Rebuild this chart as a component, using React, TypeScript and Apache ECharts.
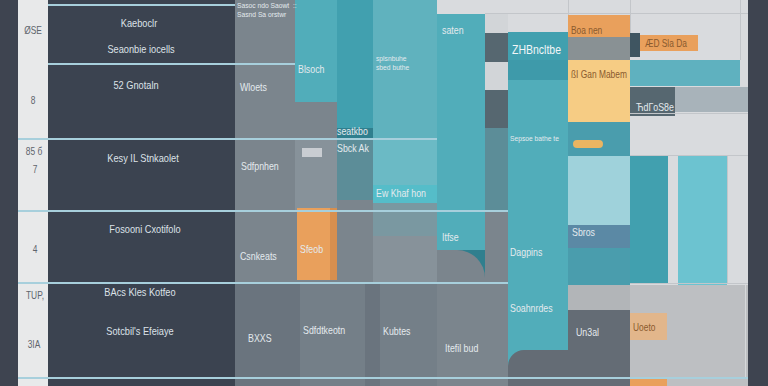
import React, { useEffect, useRef } from "react";
import * as echarts from "echarts";

// ---- data: mosaic cells [x0, x1, y0, y1, tone] in chart units ----
const baseCells: [number, number, number, number, string][] = [
  [0, 768, 0, 386, "bg"],
  [0, 18, 0, 386, "frame"],
  [748, 768, 0, 386, "frame"],
  [18, 48, 0, 386, "strip"],
  [48, 235, 0, 386, "panel"],
  [235, 295, 0, 386, "gray"],
  [295, 337, 0, 386, "gray"],
  [337, 373, 0, 386, "gray"],
  [373, 437, 0, 386, "gray"],
  [437, 508, 250, 386, "gray"],
];

const lowerCells: [number, number, number, number, string][] = [
  [235, 300, 283, 386, "grayDark"],
  [300, 365, 283, 386, "grayMid"],
  [365, 380, 283, 386, "grayDark"],
  [380, 437, 283, 386, "grayMid"],
  [437, 508, 283, 386, "gray"],
  [295, 337, 140, 211, "grayLight"],
  [568, 630, 285, 310, "stone"],
  [568, 630, 310, 386, "grayDeep"],
  [630, 748, 285, 386, "pale"],
  [630, 667, 313, 340, "peach"],
  [630, 667, 378, 386, "orange"],
];

const tealCells: [number, number, number, number, string][] = [
  [295, 337, 0, 102, "teal"],
  [337, 373, 0, 128, "tealDark"],
  [337, 373, 128, 140, "tealDeep"],
  [337, 373, 140, 200, "tealGray"],
  [373, 437, 0, 140, "tealLight"],
  [373, 437, 140, 185, "tealPale"],
  [373, 437, 185, 203, "tealBright"],
  [373, 437, 203, 236, "grayBlue"],
  [373, 437, 236, 283, "grayLight"],
  [437, 485, 14, 250, "teal"],
  [437, 485, 250, 283, "tealDeep"],
  [485, 508, 14, 33, "bgDim"],
  [485, 508, 33, 62, "slate"],
  [485, 508, 62, 90, "bgDim"],
  [485, 508, 90, 128, "slate"],
  [485, 508, 128, 211, "tealGray"],
  [485, 508, 211, 283, "gray"],
  [508, 568, 32, 60, "tealDark"],
  [508, 568, 60, 80, "tealMid"],
  [508, 568, 80, 386, "teal"],
  [568, 630, 15, 37, "orange"],
  [568, 630, 37, 60, "stoneDark"],
  [568, 630, 60, 122, "yellow"],
  [568, 630, 122, 156, "tealSea"],
  [568, 630, 156, 225, "cyan"],
  [568, 630, 225, 248, "steel"],
  [568, 630, 248, 285, "tealSea"],
  [630, 640, 33, 57, "slateDeep"],
  [640, 698, 35, 51, "orange"],
  [630, 740, 60, 86, "tealSoft"],
  [630, 675, 87, 116, "slate"],
  [675, 748, 87, 112, "silver"],
  [630, 668, 156, 283, "tealDark"],
  [678, 727, 156, 285, "cyanBright"],
  [297, 337, 208, 280, "orange"],
  [330, 337, 208, 280, "orangeDark"],
  [302, 322, 148, 157, "flag"],
];

// rounded overlays [x0, x1, y0, y1, tone, cornerStyle]
const curveCells: [number, number, number, number, string, number][] = [
  [295, 337, 102, 140, "gray", 0],
  [437, 485, 250, 283, "gray", 1],
  [508, 568, 350, 386, "grayDeep", 2],
  [573, 603, 140, 148, "fish", 3],
];

// separators and grid rules [x0, x1, y0, y1, tone]
const ruleCells: [number, number, number, number, string][] = [
  [485, 748, 13, 14, "rule"],
  [630, 748, 113, 114, "rule"],
  [630, 748, 155, 156, "rule"],
  [630, 748, 283, 284, "rule"],
  [727, 728, 156, 284, "rule"],
  [740, 741, 0, 60, "rule"],
  [568, 569, 0, 15, "rule"],
  [630, 631, 0, 33, "rule"],
  [745, 746, 285, 378, "edge"],
  [48, 235, 4, 6, "line"],
  [48, 295, 63, 65, "line"],
  [18, 437, 138, 140, "line"],
  [18, 508, 210, 212, "line"],
  [18, 508, 282, 284, "line"],
  [18, 748, 377, 379, "line"],
];

// labels [x, y, text]
const panelLabels: [number, number, string][] = [
  [139, 23, "Kaeboclr"],
  [141, 49, "Seaonbie iocells"],
  [136, 85, "52 Gnotaln"],
  [143, 158, "Kesy IL Stnkaolet"],
  [145, 229, "Fosooni Cxotifolo"],
  [140, 292, "BAcs Kles Kotfeo"],
  [140, 331, "Sotcbil's Efeiaye"],
];
const axisLabels: [number, number, string][] = [
  [33, 31, "ØSE"],
  [33, 101, "8"],
  [34, 152, "85 б"],
  [35, 170, "7"],
  [35, 250, "4"],
  [35, 296, "TUP,"],
  [34, 345, "3IA"],
];
const lightLabels: [number, number, string][] = [
  [240, 87, "Wloets"],
  [241, 166, "Sdfpnhen"],
  [240, 256, "Csnkeats"],
  [248, 338, "BXXS"],
  [303, 330, "Sdfdtkeotn"],
  [383, 331, "Kubtes"],
  [445, 348, "Itefil bud"],
  [298, 69, "Blsoch"],
  [337, 131, "seatkbo"],
  [337, 148, "Sbck Ak"],
  [376, 193, "Ew Khaf hon"],
  [442, 30, "saten"],
  [510, 252, "Dagpins"],
  [510, 308, "Soahnrdes"],
  [442, 237, "Itfse"],
  [572, 232, "Sbros"],
  [576, 332, "Un3al"],
  [636, 107, "ЋdΓoS8e"],
  [300, 249, "Sfeob"],
];
const smallLabels: [number, number, string][] = [
  [237, 5, "Sasoc ndo Saowt  ::"],
  [237, 14, "Sasnd Sa orstwr"],
  [376, 58, "splsnbuhe"],
  [376, 67, "sbed buthe"],
  [510, 138, "Sepsoe bathe te"],
];
const titleLabels: [number, number, string][] = [[512, 50, "ZHBncltbe"]];
const darkLabels: [number, number, string][] = [
  [571, 31, "Boa nen"],
  [571, 75, "ßI Gan Mabem"],
  [645, 44, "ÆD Sla Da"],
  [633, 328, "Uoeto"],
];

// ---- styles ----
const palette: Record<string, string> = {
  bg: "#d9dbde",
  bgDim: "#d2d5d8",
  frame: "#3e4450",
  strip: "#e8e9ea",
  panel: "#3b4350",
  gray: "#7b858d",
  grayLight: "#87929a",
  grayMid: "#747f88",
  grayDark: "#6a747e",
  grayDeep: "#646c75",
  grayBlue: "#7a98a1",
  stone: "#b2b5b8",
  stoneDark: "#899194",
  pale: "#bdbfc2",
  peach: "#e2b68b",
  teal: "#51adba",
  tealLight: "#60b2be",
  tealPale: "#6bbac5",
  tealBright: "#55bdc9",
  tealMid: "#3e9aaa",
  tealDark: "#41a0af",
  tealDeep: "#307f8e",
  tealGray: "#5c8d98",
  tealSea: "#4a9dad",
  tealSoft: "#5fb1bf",
  cyan: "#9fd2db",
  cyanBright: "#6cc3d0",
  slate: "#566770",
  slateDeep: "#3f5561",
  steel: "#5b89a5",
  silver: "#a8b3ba",
  orange: "#e9a05c",
  orangeDark: "#d88f4f",
  yellow: "#f6cc84",
  flag: "#c9cdd2",
  fish: "#eab562",
  rule: "#c3c6ca",
  edge: "#d6d8da",
  line: "#a7cfdc",
};
const cornerStyles: number[][] = [
  [0, 20, 0, 0],
  [0, 28, 0, 0],
  [16, 0, 0, 0],
  [4, 8, 8, 4],
];
const toneKeys = Object.keys(palette);
const FONT = "'Liberation Sans', Arial, sans-serif";
const NARROW = 0.84;

function cellSeries(rows: (number | string)[][], withCorner: boolean, z: number) {
  return {
    type: "custom",
    z,
    silent: true,
    clip: false,
    data: rows.map((r) => [r[0], r[1], r[2], r[3], toneKeys.indexOf(r[4] as string), withCorner ? r[5] : -1]),
    renderItem: (_p: any, api: any) => {
      const a = api.coord([api.value(0), api.value(2)]);
      const b = api.coord([api.value(1), api.value(3)]);
      const corner = api.value(5);
      return {
        type: "rect",
        shape: {
          x: Math.min(a[0], b[0]),
          y: Math.min(a[1], b[1]),
          width: Math.abs(b[0] - a[0]),
          height: Math.abs(b[1] - a[1]),
          r: corner >= 0 ? cornerStyles[corner] : 0,
        },
        style: { fill: palette[toneKeys[api.value(4)]] },
      };
    },
  };
}

function labelSeries(
  rows: [number, number, string][],
  color: string,
  size: number,
  align: string,
  z: number,
  weight = "normal"
) {
  return {
    type: "custom",
    z,
    silent: true,
    clip: false,
    data: rows.map((r, i) => [r[0], r[1], i]),
    renderItem: (_p: any, api: any) => {
      const p = api.coord([api.value(0), api.value(1)]);
      return {
        type: "text",
        x: p[0],
        y: p[1],
        scaleX: NARROW,
        style: {
          text: rows[api.value(2)][2],
          fill: color,
          fontSize: size,
          fontFamily: FONT,
          fontWeight: weight,
          align,
          verticalAlign: "middle",
        },
      };
    },
  };
}

export default function App() {
  const ref = useRef<HTMLDivElement>(null);
  useEffect(() => {
    if (!ref.current) return;
    const chart = echarts.init(ref.current, undefined, { renderer: "svg" });
    chart.setOption({
      animation: false,
      grid: { left: 0, right: 0, top: 0, bottom: 0 },
      xAxis: { type: "value", min: 0, max: 768, show: false },
      yAxis: { type: "value", min: 0, max: 386, inverse: true, show: false },
      series: [
        cellSeries(baseCells, false, 1),
        cellSeries(lowerCells, false, 2),
        cellSeries(tealCells, false, 3),
        cellSeries(curveCells, true, 4),
        cellSeries(ruleCells, false, 5),
        labelSeries(panelLabels, "#dde2e8", 11, "center", 6),
        labelSeries(axisLabels, "#5e646c", 10, "center", 6),
        labelSeries(lightLabels, "#e4eaee", 10.5, "left", 6),
        labelSeries(smallLabels, "#e4eaee", 8, "left", 6),
        labelSeries(titleLabels, "#f2f6f8", 12.5, "left", 6),
        labelSeries(darkLabels, "#8a5a2e", 10, "left", 6),
      ],
    });
    return () => chart.dispose();
  }, []);
  return <div ref={ref} style={{ position: "absolute", left: 0, top: 0, width: 768, height: 386 }} />;
}
